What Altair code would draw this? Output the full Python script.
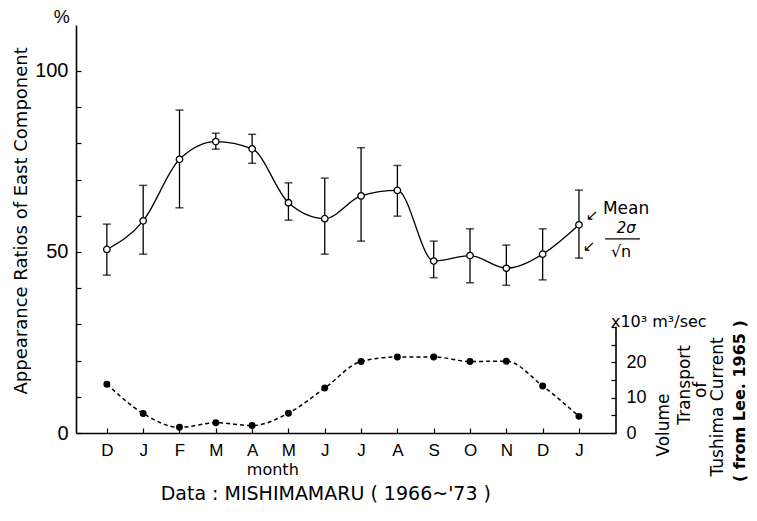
import altair as alt
import pandas as pd

# ---------------- data ----------------
months = ["D", "J", "F", "M", "A", "M", "J", "J", "A", "S", "O", "N", "D", "J"]
mean_pct = [50.7, 58.6, 75.6, 80.5, 78.5, 63.6, 59.2, 65.5, 67.0, 47.5, 49.0, 45.5, 49.4, 57.5]
upper_pct = [57.7, 68.4, 89.2, 82.8, 82.5, 69.1, 70.4, 78.8, 73.9, 53.0, 56.4, 51.9, 56.4, 67.1]
lower_pct = [43.6, 49.4, 62.2, 78.4, 74.5, 58.8, 49.4, 53.0, 59.9, 42.9, 41.5, 40.8, 42.3, 48.3]
transport = [13.8, 5.5, 1.6, 2.9, 2.1, 5.6, 12.7, 20.2, 21.5, 21.5, 20.2, 20.3, 13.3, 4.7]

left_ticks = [0, 10, 20, 30, 40, 50, 60, 70, 80, 90, 100]
right_ticks = [0, 5, 10, 15, 20, 25, 30]
right_axis_span = [0, 30]

df = pd.DataFrame({
    "idx": list(range(len(months))),
    "month": months,
    "mean": mean_pct,
    "hi": upper_pct,
    "lo": lower_pct,
    "vol": transport,
})

# ---------------- scales / axes ----------------
X_DOM = [-0.85, 14.02]
L_DOM = [0, 112.7]
R_DOM = [0, 115.3]
NUM_FONT = "Liberation Sans"
TXT_FONT = "DejaVu Sans"

month_js = "[" + ",".join("'%s'" % m for m in months) + "]"

x_axis = alt.Axis(
    values=list(range(len(months))),
    labelExpr=month_js + "[datum.value]",
    title=None, grid=False,
    domainColor="black", domainWidth=1.6,
    tickColor="black", tickSize={"expr": "-5"}, tickWidth=1.2,
    labelFont=NUM_FONT, labelFontSize=17, labelColor="black",
    labelPadding=14,
)
left_axis = alt.Axis(
    values=left_ticks,
    labelExpr="datum.value % 50 == 0 ? datum.label : ''",
    title=None, grid=False,
    domainColor="black", domainWidth=1.6,
    tickColor="black", tickSize={"expr": "-5"}, tickWidth=1.2,
    labelFont=NUM_FONT, labelFontSize=20, labelColor="black",
    labelPadding=13,
)
right_axis = alt.Axis(
    orient="right",
    values=right_ticks,
    labelExpr="(datum.value % 10 == 0 && datum.value <= 20) ? datum.label : ''",
    title=None, grid=False, domain=False,
    tickColor="black", tickSize={"expr": "-5"}, tickWidth=1.2,
    labelFont=NUM_FONT, labelFontSize=18, labelColor="black",
    labelPadding=15,
)


def X(field="idx"):
    return alt.X(f"{field}:Q", scale=alt.Scale(domain=X_DOM, nice=False, zero=False), axis=x_axis)


def YL(field):
    return alt.Y(f"{field}:Q", scale=alt.Scale(domain=L_DOM, nice=False), axis=left_axis)


def YR(field):
    return alt.Y(f"{field}:Q", scale=alt.Scale(domain=R_DOM, nice=False), axis=right_axis)


base = alt.Chart(df)

# ---------------- left (percentage) layer ----------------
mean_line = base.mark_line(interpolate="monotone", color="black", strokeWidth=1.3).encode(
    x=X(), y=YL("mean"))
err_rule = base.mark_rule(color="black", strokeWidth=1.3).encode(
    x=X(), y=YL("lo"), y2="hi:Q")
cap_hi = base.mark_tick(orient="horizontal", size=8, thickness=1.5, color="black").encode(
    x=X(), y=YL("hi"))
cap_lo = base.mark_tick(orient="horizontal", size=8, thickness=1.5, color="black").encode(
    x=X(), y=YL("lo"))
circles = base.mark_point(shape="circle", filled=True, fill="white", stroke="black",
                          strokeWidth=1.3, size=42, opacity=1).encode(x=X(), y=YL("mean"))


# annotations (positions in data units of the left scale)
def text_layer(rows, **mark):
    d = pd.DataFrame(rows, columns=["idx", "val", "label"])
    return alt.Chart(d).mark_text(color="black", **mark).encode(
        x=X(), y=YL("val"), text="label:N")


pct_sign = text_layer([[-1.24, 114.6, "%"]], font=NUM_FONT, fontSize=18)
mean_lbl = text_layer([[13.66, 62.0, "Mean"]], font=TXT_FONT, fontSize=17, align="left", baseline="middle")
sigma_lbl = text_layer([[14.30, 56.6, "2σ"]], font=TXT_FONT, fontSize=15, fontStyle="italic", baseline="middle")
sqrt_lbl = text_layer([[14.16, 50.0, "√n"]], font=TXT_FONT, fontSize=16, baseline="middle")
arrows = text_layer([[13.36, 60.3, "↙"], [13.28, 51.6, "↙"]], font=TXT_FONT, fontSize=15, baseline="middle")
frac = pd.DataFrame({"idx": [13.72, 14.68], "val": [53.6, 53.6]})
frac_bar = alt.Chart(frac).mark_line(color="black", strokeWidth=1.3).encode(x=X(), y=YL("val"))
unit_lbl = text_layer([[13.88, 30.7, "x10³ m³/sec"]], font=TXT_FONT, fontSize=16, align="left", baseline="middle")
rot_small = text_layer([[15.34, 2.2, "Volume"], [15.92, 13.3, "Transport"], [16.36, 11.9, "of"],
                        [16.83, 7.2, "Tushima  Current"]],
                       font=TXT_FONT, fontSize=17, angle=270, baseline="middle")
rot_bold = text_layer([[17.44, 8.8, "( from Lee. 1965 )"]], font=TXT_FONT, fontSize=16,
                      fontWeight="bold", angle=270, baseline="middle")
month_lbl = text_layer([[4.57, -10.2, "month"]], font=TXT_FONT, fontSize=16, baseline="middle")
data_lbl = text_layer([[6.03, -16.8, "Data : MISHIMAMARU ( 1966~'73 )"]], font=TXT_FONT, fontSize=19,
                      baseline="middle")
ytitle = text_layer([[-2.33, 58.6, "Appearance Ratios of East Component"]], font=TXT_FONT, fontSize=18,
                    angle=270, baseline="middle")

left_layer = alt.layer(err_rule, cap_hi, cap_lo, mean_line, circles, pct_sign, mean_lbl, sigma_lbl,
                       sqrt_lbl, arrows, frac_bar, unit_lbl, rot_small, rot_bold, month_lbl, data_lbl, ytitle)

# ---------------- right (volume transport) layer ----------------
vol_line = base.mark_line(interpolate="monotone", color="black", strokeWidth=1.5,
                          strokeDash=[4, 3]).encode(x=X(), y=YR("vol"))
vol_dots = base.mark_circle(color="black", size=48, opacity=1).encode(x=X(), y=YR("vol"))
raxis_df = pd.DataFrame({"idx": [X_DOM[1]], "v0": [right_axis_span[0]], "v1": [right_axis_span[1]]})
raxis_line = alt.Chart(raxis_df).mark_rule(color="black", strokeWidth=1.6).encode(
    x=X(), y=YR("v0"), y2="v1:Q")

right_layer = alt.layer(vol_line, vol_dots, raxis_line)

chart = alt.layer(left_layer, right_layer).resolve_scale(y="independent").properties(
    width=540, height=408,
    autosize=alt.AutoSizeParams(type="none"),
    padding={"left": 68, "top": 17, "right": 133, "bottom": 80},
).configure_view(stroke=None)

chart.save("out.html", embed_options={"renderer": "svg", "actions": False})
